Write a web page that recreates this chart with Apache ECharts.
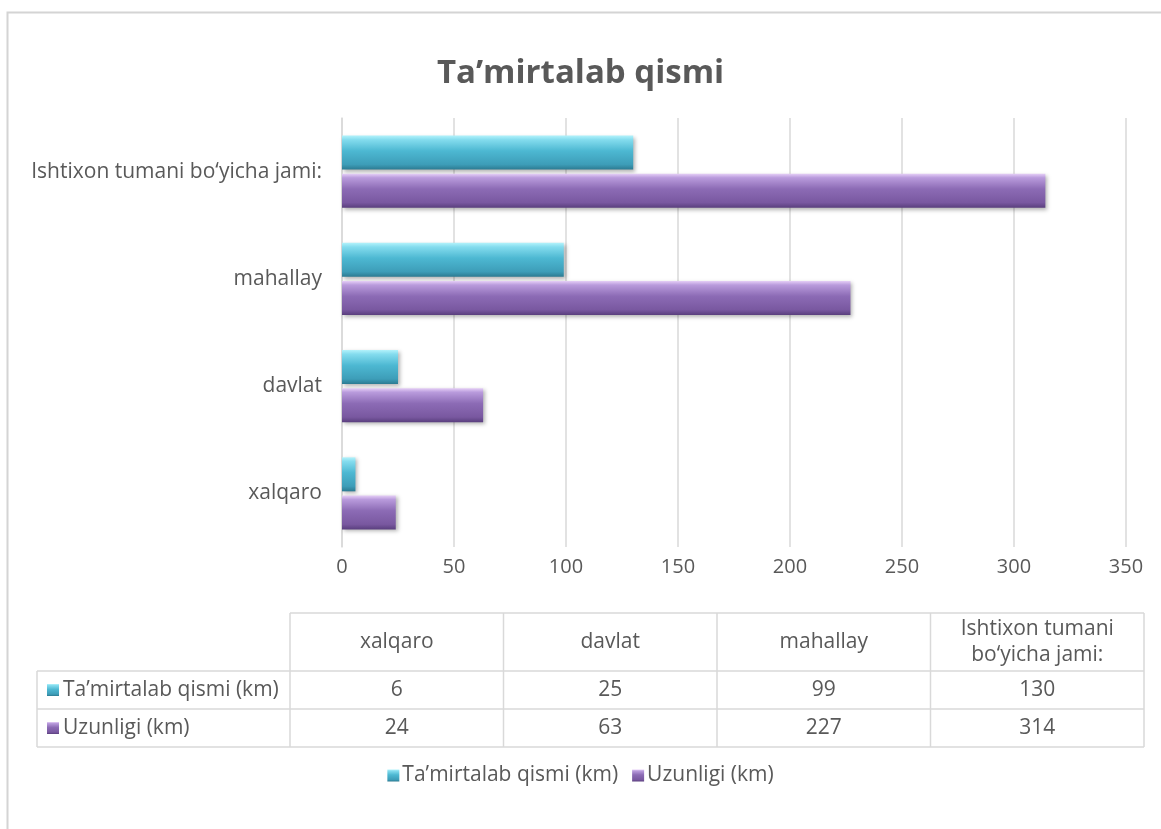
<!DOCTYPE html>
<html>
<head>
<meta charset="utf-8">
<script src="https://cdn.jsdelivr.net/npm/echarts@6/dist/echarts.min.js"></script>
<style>
html,body{margin:0;padding:0;background:#fff;}
#chart{width:1161px;height:829px;}
</style>
</head>
<body>
<div id="chart"></div>
<script>
// ---- data ----
var categories = ['xalqaro', 'davlat', 'mahallay', 'Ishtixon tumani bo‘yicha jami:'];
var tableHeaders = ['xalqaro', 'davlat', 'mahallay', 'Ishtixon tumani\nbo‘yicha jami:'];
var seriesNames = ['Ta’mirtalab qismi (km)', 'Uzunligi (km)'];
var tamirtalab = [6, 25, 99, 130];
var uzunligi = [24, 63, 227, 314];
var xTicks = { min: 0, max: 350, interval: 50 };
var titleText = 'Ta’mirtalab qismi';

// ---- styles ----
var FONT = '"Open Sans"';
var TXT = '#595959';
var FS = 21;
function grad(stops) {
  return new echarts.graphic.LinearGradient(0, 0, 0, 1, stops.map(function (s) { return { offset: s[0], color: s[1] }; }));
}
var cyanStops = [[0, '#b2f2fb'], [0.12, '#84dcee'], [0.45, '#4db8d2'], [0.85, '#3d9db8'], [1, '#2c7a91']];
var purpleStops = [[0, '#e6cff7'], [0.12, '#b99bdc'], [0.45, '#8c6bb5'], [0.85, '#7958a0'], [1, '#5a3f7e']];
var seriesColors = [cyanStops, purpleStops];
var seriesData = [tamirtalab, uzunligi];

// ---- table graphic (built from arrays) ----
var tbl = { labelLeft: 37, colLeft: 290, colW: 213.5, top: 613, headH: 58, rowH: 38 };
var graphics = [];
var lineStyle = { stroke: '#d9d9d9', lineWidth: 1.5 };
function line(x1, y1, x2, y2) {
  graphics.push({ type: 'line', shape: { x1: x1, y1: y1, x2: x2, y2: y2 }, style: lineStyle, silent: true });
}
function text(x, y, t, align) {
  graphics.push({ type: 'text', x: x, y: y, style: { text: t, fill: TXT, font: FS + 'px ' + FONT, align: align || 'center', verticalAlign: 'middle', lineHeight: 26 }, silent: true });
}
var nCols = tableHeaders.length;
var right = tbl.colLeft + nCols * tbl.colW;
var r1 = tbl.top + tbl.headH, r2 = r1 + tbl.rowH, r3 = r2 + tbl.rowH;
line(tbl.colLeft, tbl.top, right, tbl.top);
line(tbl.labelLeft, r1, right, r1);
line(tbl.labelLeft, r2, right, r2);
line(tbl.labelLeft, r3, right, r3);
line(tbl.labelLeft, r1, tbl.labelLeft, r3);
for (var c = 0; c <= nCols; c++) {
  var xx = tbl.colLeft + c * tbl.colW;
  line(xx, tbl.top, xx, r3);
}
tableHeaders.forEach(function (h, i) {
  text(tbl.colLeft + (i + 0.5) * tbl.colW, tbl.top + tbl.headH / 2, h);
});
seriesData.forEach(function (arr, s) {
  var cy = r1 + (s + 0.5) * tbl.rowH;
  graphics.push({ type: 'rect', shape: { x: tbl.labelLeft + 10, y: cy - 6, width: 12, height: 12 },
    style: { fill: grad(seriesColors[s]) }, silent: true });
  text(tbl.labelLeft + 26, cy, seriesNames[s], 'left');
  arr.forEach(function (v, i) {
    text(tbl.colLeft + (i + 0.5) * tbl.colW, cy, String(v));
  });
});
// outer frame
graphics.push({ type: 'rect', shape: { x: 7.5, y: 12.5, width: 1300, height: 1000 },
  style: { fill: 'none', stroke: '#d4d4d4', lineWidth: 2 }, silent: true, z: -1 });

var chart = echarts.init(document.getElementById('chart'));
chart.setOption({
  backgroundColor: '#fff',
  animation: false,
  title: {
    text: titleText, left: 'center', top: 52,
    textStyle: { fontFamily: FONT, fontSize: 33, fontWeight: 'bold', color: TXT }
  },
  legend: {
    data: seriesNames, top: 760, left: 'center', icon: 'rect', itemWidth: 12, itemHeight: 12, itemGap: 14,
    textStyle: { fontFamily: FONT, fontSize: FS, color: TXT, padding: [0, 0, 0, -2] }
  },
  grid: { left: 342, right: 35, top: 118, bottom: 282, containLabel: false },
  xAxis: {
    type: 'value', min: xTicks.min, max: xTicks.max, interval: xTicks.interval,
    axisLine: { show: false }, axisTick: { show: false },
    splitLine: { lineStyle: { color: '#d9d9d9', width: 1.5 } },
    axisLabel: { fontFamily: FONT, fontSize: 20, color: TXT, margin: 10 }
  },
  yAxis: {
    type: 'category', data: categories,
    axisLine: { show: true, lineStyle: { color: '#d9d9d9', width: 1.5 } },
    axisTick: { show: false },
    axisLabel: { fontFamily: FONT, fontSize: FS, color: TXT, margin: 20 }
  },
  series: seriesNames.map(function (n, s) {
    return {
      name: n, type: 'bar', data: seriesData[s], barWidth: 34, barGap: '12%',
      itemStyle: { color: grad(seriesColors[s]), shadowBlur: 4, shadowColor: 'rgba(0,0,0,0.3)', shadowOffsetX: 2, shadowOffsetY: 2 }
    };
  }),
  graphic: graphics
});
</script>
</body>
</html>
